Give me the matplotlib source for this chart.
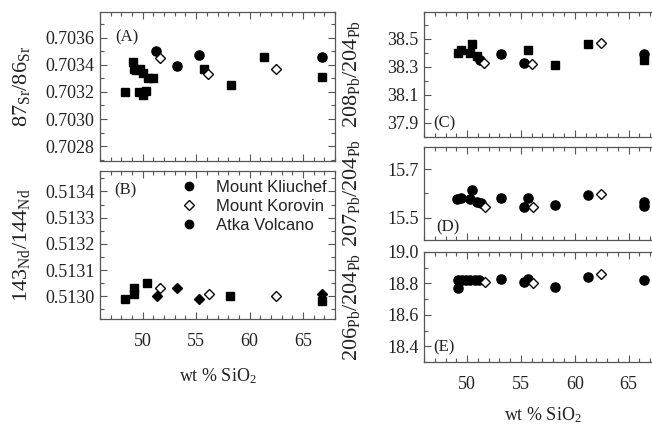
import matplotlib
matplotlib.use("Agg")
import matplotlib.pyplot as plt
from matplotlib.ticker import MultipleLocator, FixedLocator, FormatStrFormatter, NullFormatter
from matplotlib.lines import Line2D

# --- Sr isotopes (panel A) ---
sr_kliuchef_sio2 = [48.3, 49.1, 49.2, 49.4, 49.7, 50.0, 50.5, 51.0, 49.65, 50.0, 50.35, 55.75, 58.25, 61.35, 66.8]
sr_kliuchef = [0.70320, 0.70342, 0.70337, 0.70336, 0.70337, 0.70334, 0.70330, 0.70330,
               0.70320, 0.70318, 0.70321, 0.70337, 0.70325, 0.70346, 0.70331]
sr_korovin_sio2 = [51.6, 56.1, 62.5]
sr_korovin = [0.70345, 0.70333, 0.70337]
sr_atka_sio2 = [51.2, 53.2, 55.3, 66.75]
sr_atka = [0.70350, 0.70339, 0.70347, 0.70346]

# --- Nd isotopes (panel B) ---
nd_kliuchef_sio2 = [48.3, 49.2, 49.2, 50.4, 58.2, 66.8]
nd_kliuchef = [0.51299, 0.51301, 0.51303, 0.51305, 0.51300, 0.51298]
nd_korovin_sio2 = [51.6, 56.2, 62.5]
nd_korovin = [0.51303, 0.51301, 0.51300]
nd_atka_sio2 = [51.3, 53.2, 55.3, 66.8]
nd_atka = [0.51300, 0.51303, 0.51299, 0.51301]

# --- 208Pb/204Pb (panel C) ---
pb208_kliuchef_sio2 = [49.2, 49.4, 50.3, 50.5, 50.9, 55.7, 58.2, 61.2, 66.4]
pb208_kliuchef = [38.40, 38.42, 38.40, 38.46, 38.38, 38.42, 38.31, 38.46, 38.35]
pb208_korovin_sio2 = [51.6, 56.0, 62.4]
pb208_korovin = [38.33, 38.32, 38.47]
pb208_atka_sio2 = [51.2, 53.15, 55.3, 66.4]
pb208_atka = [38.35, 38.39, 38.33, 38.39]

# --- 207Pb/204Pb (panel D) ---
pb207_sio2 = [49.1, 49.4, 50.3, 50.5, 50.9, 51.3, 53.15, 55.3, 55.7, 58.2, 61.2, 66.4, 66.45]
pb207 = [15.578, 15.580, 15.578, 15.614, 15.567, 15.560, 15.580, 15.546, 15.583, 15.553, 15.594, 15.567, 15.550]
pb207_korovin_sio2 = [51.7, 56.1, 62.4]
pb207_korovin = [15.546, 15.546, 15.597]

# --- 206Pb/204Pb (panel E) ---
pb206_sio2 = [49.2, 49.2, 49.5, 49.9, 50.3, 50.7, 51.1, 53.15, 55.3, 55.7, 58.2, 61.2, 66.4]
pb206 = [18.823, 18.770, 18.823, 18.823, 18.823, 18.823, 18.823, 18.827, 18.810, 18.827, 18.780, 18.840, 18.820]
pb206_korovin_sio2 = [51.7, 56.1, 62.4]
pb206_korovin = [18.810, 18.800, 18.860]

legend_labels = ["Mount Kliuchef", "Mount Korovin", "Atka Volcano"]
x_ticks = [50, 55, 60, 65]
sr_ticks = [0.7028, 0.7030, 0.7032, 0.7034, 0.7036]
nd_ticks = [0.5130, 0.5131, 0.5132, 0.5133, 0.5134]
pb208_ticks = [37.9, 38.1, 38.3, 38.5]
pb207_ticks = [15.5, 15.7]
pb206_ticks = [18.4, 18.6, 18.8, 19.0]

SERIF = "Liberation Serif"
SANS = "Liberation Sans"
INK = "#222222"
EDGE = "#555555"

plt.rcParams["font.family"] = SERIF
plt.rcParams["mathtext.fontset"] = "custom"
plt.rcParams["mathtext.rm"] = SERIF
plt.rcParams["mathtext.it"] = SERIF + ":italic"
plt.rcParams["mathtext.bf"] = SERIF + ":bold"

fig = plt.figure(figsize=(6.52, 4.29), dpi=100)

axA = fig.add_axes([0.1534, 0.6247, 0.3604, 0.3473])
axB = fig.add_axes([0.1534, 0.2564, 0.3604, 0.3450])
axC = fig.add_axes([0.6503, 0.6807, 0.3635, 0.2914])
axD = fig.add_axes([0.6503, 0.4406, 0.3635, 0.2168])
axE = fig.add_axes([0.6503, 0.1562, 0.3635, 0.2564])


def style(ax, ylim, yticks, ymin, fmt, show_x):
    ax.set_xlim(46, 68)
    ax.set_ylim(*ylim)
    ax.xaxis.set_major_locator(FixedLocator(x_ticks))
    ax.xaxis.set_minor_locator(MultipleLocator(1))
    ax.yaxis.set_major_locator(FixedLocator(yticks))
    ax.yaxis.set_minor_locator(MultipleLocator(ymin))
    ax.yaxis.set_major_formatter(FormatStrFormatter(fmt))
    ax.tick_params(which="both", direction="in", top=True, right=True,
                   color=EDGE, width=0.8, labelsize=13, labelcolor=INK)
    ax.tick_params(which="major", length=5)
    ax.tick_params(which="minor", length=3)
    ax.tick_params(axis="y", which="major", pad=4)
    ax.tick_params(axis="x", which="major", pad=10)
    if not show_x:
        ax.xaxis.set_major_formatter(NullFormatter())
    for s in ax.spines.values():
        s.set_color(EDGE)
        s.set_linewidth(0.9)


sq = dict(marker="s", color="black", ms=5.8, ls="none")
dot = dict(marker="o", color="black", ms=6.6, ls="none")
dia = dict(marker="D", mfc="white", mec="black", mew=1.0, ms=5.0, ls="none")
fdia = dict(marker="D", color="black", ms=5.2, ls="none")

YLAB = dict(fontsize=16, color=INK)

# Panel A
style(axA, (0.70269, 0.70379), sr_ticks, 0.0001, "%.4f", False)
axA.plot(sr_kliuchef_sio2, sr_kliuchef, **sq)
axA.plot(sr_atka_sio2, sr_atka, **dot)
axA.plot(sr_korovin_sio2, sr_korovin, **dia)
axA.text(0.064, 0.83, "(A)", transform=axA.transAxes, fontsize=12, color=INK, va="center")
axA.set_ylabel(r"$87_{\mathrm{Sr}}/86_{\mathrm{Sr}}$", **YLAB)
axA.yaxis.set_label_coords(-0.29, 0.5)

# Panel B
style(axB, (0.512913, 0.513478), nd_ticks, 0.00005, "%.4f", True)
axB.plot(nd_kliuchef_sio2, nd_kliuchef, **sq)
axB.plot(nd_atka_sio2, nd_atka, **fdia)
axB.plot(nd_korovin_sio2, nd_korovin, **dia)
axB.text(0.06, 0.87, "(B)", transform=axB.transAxes, fontsize=12, color=INK, va="center")
axB.set_ylabel(r"$143_{\mathrm{Nd}}/144_{\mathrm{Nd}}$", **YLAB)
axB.yaxis.set_label_coords(-0.29, 0.5)
axB.set_xlabel(r"wt % SiO$_2$", fontsize=13, color=INK, labelpad=12)

handles = [
    Line2D([], [], marker="o", color="black", ms=6.0, ls="none"),
    Line2D([], [], marker="D", mfc="white", mec="black", mew=1.0, ms=4.6, ls="none"),
    Line2D([], [], marker="o", color="black", ms=6.0, ls="none"),
]
axB.legend(handles, legend_labels, loc="upper left", bbox_to_anchor=(0.265, 1.01),
           frameon=False, prop={"family": SANS, "size": 12},
           handletextpad=0.6, labelspacing=0.25, borderaxespad=0.2,
           labelcolor=INK)

# Panel C
style(axC, (37.80, 38.69), pb208_ticks, 0.1, "%.1f", False)
axC.plot(pb208_kliuchef_sio2, pb208_kliuchef, **sq)
axC.plot(pb208_atka_sio2, pb208_atka, **dot)
axC.plot(pb208_korovin_sio2, pb208_korovin, **dia)
axC.text(0.04, 0.112, "(C)", transform=axC.transAxes, fontsize=12, color=INK, va="center")
axC.set_ylabel(r"$208_{\mathrm{Pb}}/204_{\mathrm{Pb}}$", **YLAB)
axC.yaxis.set_label_coords(-0.26, 0.5)

# Panel D
style(axD, (15.41, 15.79), pb207_ticks, 0.1, "%.1f", False)
axD.plot(pb207_sio2, pb207, **dot)
axD.plot(pb207_korovin_sio2, pb207_korovin, **dia)
axD.text(0.05, 0.14, "(D)", transform=axD.transAxes, fontsize=12, color=INK, va="center")
axD.set_ylabel(r"$207_{\mathrm{Pb}}/204_{\mathrm{Pb}}$", **YLAB)
axD.yaxis.set_label_coords(-0.26, 0.5)

# Panel E
style(axE, (18.30, 19.00), pb206_ticks, 0.1, "%.1f", True)
axE.plot(pb206_sio2, pb206, **dot)
axE.plot(pb206_korovin_sio2, pb206_korovin, **dia)
axE.text(0.04, 0.136, "(E)", transform=axE.transAxes, fontsize=12, color=INK, va="center")
axE.set_ylabel(r"$206_{\mathrm{Pb}}/204_{\mathrm{Pb}}$", **YLAB)
axE.yaxis.set_label_coords(-0.26, 0.5)
axE.set_xlabel(r"wt % SiO$_2$", fontsize=13, color=INK, labelpad=9)

fig.savefig("out.png", dpi=100)
